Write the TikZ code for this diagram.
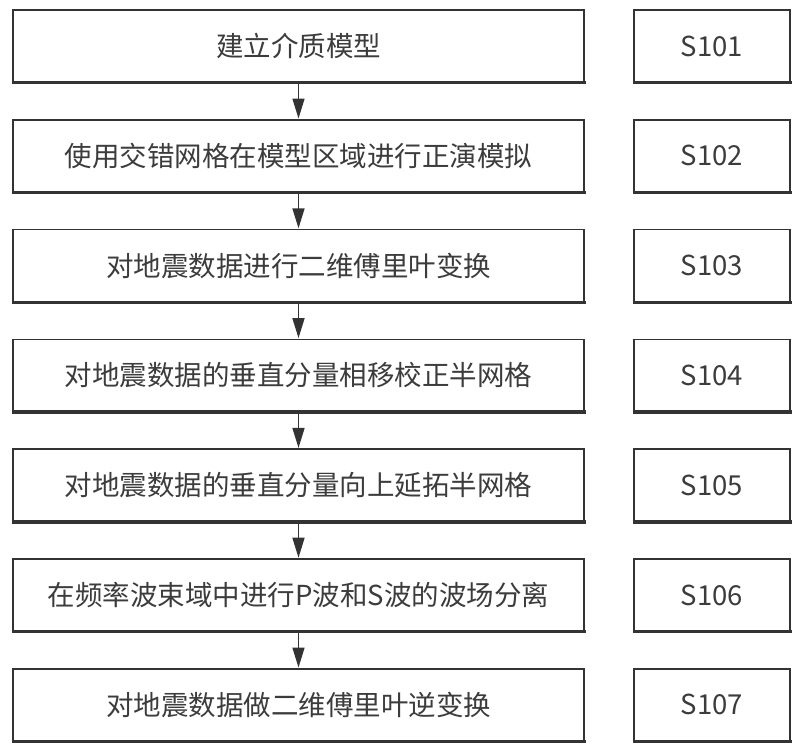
\documentclass[tikz,border=0pt]{standalone}
\usepackage{fontspec}
\setmainfont{Noto Sans CJK SC}
\usetikzlibrary{arrows.meta}
\definecolor{linec}{HTML}{333333}
\definecolor{textc}{HTML}{3C3C3C}
\tikzset{
  stepbox/.style={draw=linec, line width=1.5pt, fill=white, minimum height=72pt, inner sep=0pt,
    text=textc, font=\fontsize{27.5}{30}\selectfont, anchor=center},
  mainbox/.style={stepbox, minimum width=571pt},
  labbox/.style={stepbox, minimum width=156pt},
  flow/.style={draw=linec, line width=1.5pt, -{Triangle[length=20pt,width=12pt]}, shorten >=0.5pt},
  thickbottom/.style={draw=linec, line width=3.5pt}
}
\begin{document}
\begin{tikzpicture}[x=1pt,y=1pt]
\useasboundingbox (0,0) rectangle (800,752);
\foreach \i/\t in {1/{建立介质模型},2/{使用交错网格在模型区域进行正演模拟},3/{对地震数据进行二维傅里叶变换},4/{对地震数据的垂直分量相移校正半网格},5/{对地震数据的垂直分量向上延拓半网格},6/{在频率波束域中进行P波和S波的波场分离},7/{对地震数据做二维傅里叶逆变换}}{
  \pgfmathsetmacro{\yc}{752-46-109.8*(\i-1)}
  \node[mainbox] (m\i) at (298.5,\yc) {\t};
  \node[labbox] (s\i) at (712,\yc) {S10\i};
  \draw[thickbottom] ([xshift=-0.75pt]m\i.south west) -- ([xshift=0.75pt]m\i.south east);
  \draw[thickbottom] ([xshift=-0.75pt]s\i.south west) -- ([xshift=0.75pt]s\i.south east);
}
\foreach \i [evaluate=\i as \j using int(\i+1)] in {1,...,6}{
  \draw[flow] (m\i.south) -- (m\j.north);
}
\end{tikzpicture}
\end{document}
